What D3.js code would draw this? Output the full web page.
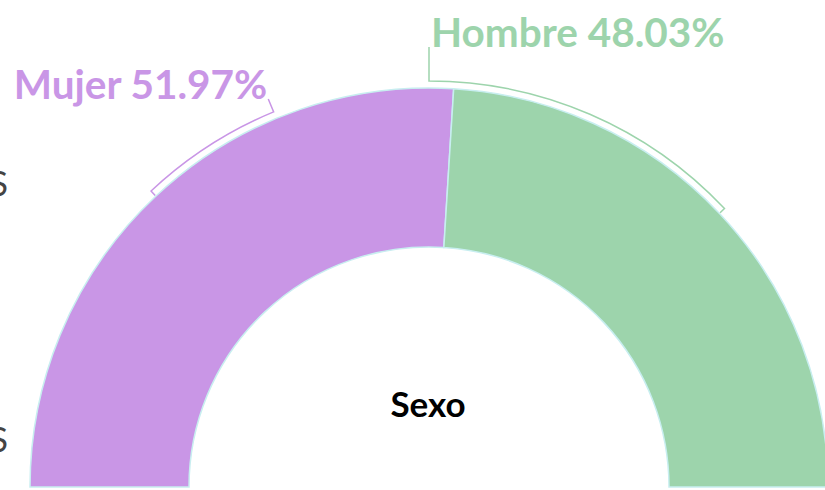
<!DOCTYPE html>
<html><head><meta charset="utf-8">
<script src="https://cdn.jsdelivr.net/npm/d3@7"></script>
<style>html,body{margin:0;padding:0;background:#fff;overflow:hidden}svg{display:block}</style>
</head><body>
<svg id="c" width="825" height="490"></svg>
<script>
const categories = ["Mujer", "Hombre"];
const values = [51.97, 48.03];
const colors = ["#c996e6", "#9dd4ac"];
const title = "Sexo";
const sideLabels = ["S", "S"];

const W = 825, H = 490;
const cx = 429, cy = 487, R = 399, r = 240;
const svg = d3.select("#c");
const deg = Math.PI / 180;

const pie = d3.pie().sort(null).startAngle(-90 * deg).endAngle(90 * deg);
const arcs = pie(values);
const arcGen = d3.arc().innerRadius(r).outerRadius(R);
const g = svg.append("g").attr("transform", `translate(${cx},${cy})`);

g.selectAll("path.slice").data(arcs).join("path")
  .attr("class", "slice")
  .attr("d", arcGen)
  .attr("fill", (d, i) => colors[i])
  .attr("stroke", "#c8eef0")
  .attr("stroke-width", 1.5);

// brackets (label callouts)
const brackets = [
  { a0: -43.2, a1: -22.5, anchorAt: "a1", out: 14, anchor: "end", dx: -1 },
  { a0: 0, a1: 46.7, anchorAt: "a0", out: 34, anchor: "start", dx: 2 }
];
const rb = 406, rin = 400;
const pt = (a, rr) => [rr * Math.sin(a * deg), -rr * Math.cos(a * deg)];

brackets.forEach((b, i) => {
  const aTick = b.anchorAt === "a1" ? b.a1 : b.a0;
  const aOther = b.anchorAt === "a1" ? b.a0 : b.a1;
  const tEnd = pt(aTick, rb + b.out);
  const path = d3.path();
  const oIn = pt(aOther, rin);
  const oB = pt(aOther, rb);
  path.moveTo(oIn[0], oIn[1]);
  path.lineTo(oB[0], oB[1]);
  const s = (aOther - 90) * deg, e = (aTick - 90) * deg;
  path.arc(0, 0, rb, s, e, e < s);
  path.lineTo(tEnd[0], tEnd[1]);
  g.append("path").attr("d", path.toString())
    .attr("fill", "none").attr("stroke", colors[i]).attr("stroke-width", 1.5);

  g.append("text")
    .attr("x", tEnd[0] + b.dx).attr("y", tEnd[1])
    .attr("text-anchor", b.anchor)
    .attr("font-family", "Lato, 'Noto Sans', sans-serif")
    .attr("font-weight", "bold")
    .attr("font-size", 40.5)
    .attr("fill", colors[i])
    .text(`${categories[i]} ${values[i].toFixed(2)}%`);
});

g.append("text")
  .attr("x", -1).attr("y", 417 - cy)
  .attr("text-anchor", "middle")
  .attr("font-family", "Lato, 'Noto Sans', sans-serif")
  .attr("font-weight", "bold")
  .attr("font-size", 35)
  .attr("fill", "#000")
  .text(title);

// clipped labels from neighbouring chart at left edge
svg.selectAll("text.side").data(sideLabels).join("text")
  .attr("class", "side")
  .attr("x", 8).attr("y", (d, i) => [196, 452][i])
  .attr("text-anchor", "end")
  .attr("font-family", "Lato, sans-serif")
  .attr("font-size", 34)
  .attr("fill", "#444")
  .text(d => d);
</script>
</body></html>
